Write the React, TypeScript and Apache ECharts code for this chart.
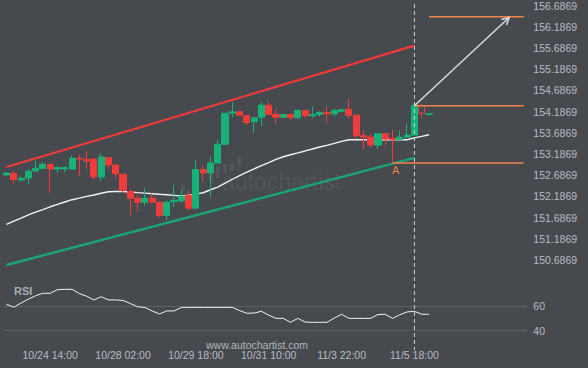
import React, { useEffect, useRef } from "react";
import * as echarts from "echarts";

// ---- data ----
// 4H candles: [open, close, low, high]
const ohlc: number[][] = [
  [152.693, 152.740, 152.680, 152.760],
  [152.725, 152.585, 152.491, 152.787],
  [152.575, 152.615, 152.538, 152.679],
  [152.622, 152.780, 152.474, 152.827],
  [152.787, 152.850, 152.787, 153.038],
  [152.850, 152.944, 152.850, 152.991],
  [152.944, 152.834, 152.270, 152.944],
  [152.834, 152.866, 152.740, 152.913],
  [152.836, 152.866, 152.750, 152.897],
  [152.834, 153.085, 152.834, 153.163],
  [153.085, 153.069, 152.662, 153.163],
  [153.054, 153.022, 152.834, 153.250],
  [153.069, 152.646, 152.585, 153.069],
  [152.646, 153.116, 152.552, 153.195],
  [153.101, 152.928, 152.819, 153.101],
  [152.928, 152.725, 152.615, 152.928],
  [152.709, 152.333, 152.286, 152.709],
  [152.303, 152.145, 151.753, 152.350],
  [152.145, 152.051, 151.833, 152.223],
  [152.051, 152.145, 151.974, 152.380],
  [152.145, 152.051, 152.021, 152.256],
  [152.051, 151.739, 151.692, 152.051],
  [151.739, 152.051, 151.628, 152.098],
  [152.068, 152.098, 151.941, 152.451],
  [152.082, 152.192, 152.040, 152.330],
  [152.215, 151.910, 151.847, 152.333],
  [151.910, 152.819, 151.910, 153.038],
  [152.819, 152.740, 152.552, 152.921],
  [152.740, 152.975, 152.162, 153.116],
  [152.975, 153.414, 152.975, 153.524],
  [153.414, 154.149, 153.414, 154.149],
  [154.149, 154.182, 154.055, 154.417],
  [154.182, 154.102, 154.102, 154.182],
  [154.088, 153.931, 153.867, 154.088],
  [153.947, 154.041, 153.679, 154.041],
  [154.055, 154.337, 153.837, 154.417],
  [154.337, 154.119, 154.119, 154.417],
  [154.119, 154.055, 153.900, 154.229],
  [154.055, 154.119, 154.025, 154.119],
  [154.119, 154.041, 153.994, 154.119],
  [154.041, 154.213, 154.008, 154.243],
  [154.213, 154.088, 154.041, 154.213],
  [154.088, 154.119, 154.041, 154.307],
  [154.119, 154.166, 154.072, 154.196],
  [154.166, 154.135, 153.914, 154.307],
  [154.135, 154.213, 154.072, 154.260],
  [154.196, 154.229, 154.182, 154.260],
  [154.243, 154.102, 154.025, 154.495],
  [154.102, 153.618, 153.538, 154.102],
  [153.618, 153.585, 153.303, 153.743],
  [153.585, 153.397, 153.336, 153.665],
  [153.397, 153.665, 153.303, 153.665],
  [153.665, 153.538, 153.397, 153.665],
  [153.555, 153.524, 152.975, 153.759],
  [153.524, 153.585, 153.524, 153.743],
  [153.585, 153.632, 153.585, 153.900],
  [153.632, 154.337, 153.632, 154.337],
  [154.323, 154.149, 154.025, 154.370],
  [154.119, 154.135, 154.100, 154.150],
];

// moving average (white line)
const maValues: number[] = [
  151.530, 151.605, 151.678, 151.753, 151.816, 151.877, 151.943, 152.000, 152.056, 152.110,
  152.148, 152.187, 152.220, 152.263, 152.296, 152.305, 152.305, 152.291, 152.277, 152.265,
  152.251, 152.237, 152.225, 152.211, 152.197, 152.216, 152.242, 152.274, 152.345, 152.408,
  152.500, 152.592, 152.679, 152.758, 152.838, 152.914, 152.986, 153.062, 153.123, 153.170,
  153.214, 153.259, 153.306, 153.351, 153.391, 153.437, 153.484, 153.524, 153.524, 153.524,
  153.524, 153.524, 153.524, 153.524, 153.524, 153.524, 153.567, 153.602, 153.642,
];

// RSI
const rsiValues: number[] = [
  61.4, 59.0, 62.4, 65.5, 68.3, 70.3, 70.3, 73.2, 73.5, 73.5,
  70.1, 67.9, 64.9, 67.5, 64.9, 64.9, 64.5, 62.0, 59.4, 58.8,
  56.0, 53.5, 56.0, 56.0, 58.8, 58.9, 58.9, 58.9, 58.9, 58.9,
  58.9, 58.9, 56.3, 54.1, 54.3, 55.7, 52.6, 50.0, 50.0, 46.8,
  50.0, 47.0, 46.8, 46.8, 46.8, 50.2, 53.3, 50.0, 50.0, 50.0,
  50.0, 53.1, 53.3, 50.0, 52.9, 55.2, 55.7, 53.3, 53.3,
];

// channel lines [index, price]
const upperChannel = [[0, 152.880], [56, 155.740]];
const lowerChannel = [[0, 150.571], [56, 153.097]];

// pattern levels
const targetLevel = [[58, 156.421], [71, 156.421]];
const breakoutLevel = [[56, 154.323], [71, 154.323]];
const supportLevel = [[53, 152.975], [71, 152.975]];
const arrowPath = [56, 154.323, 69, 156.405];
const pointA = [53, 152.975];
const breakoutIndex = 56;

// axis
const slotCount = 72;
const timeLabelIndex = [6, 16, 26, 36, 46, 56];
const timeLabels = ["10/24 14:00", "10/28 02:00", "10/29 18:00", "10/31 10:00", "11/3 22:00", "11/5 18:00"];
const priceLabels = [
  "150.6869", "151.1869", "151.6869", "152.1869", "152.6869", "153.1869", "153.6869",
  "154.1869", "154.6869", "155.1869", "155.6869", "156.1869", "156.6869",
];
const priceMin = 150.1869;
const priceMax = 156.6869;
const priceStep = 0.5;
const rsiLevels = [60, 40];

const BG = "#46494e";
const GREEN = "#17b27a";
const RED = "#f23b3b";
const ORANGE = "#f0834c";
const LABEL = "#b9bcc1";
const FONT = "Liberation Sans, Arial, sans-serif";

export default function App() {
  const ref = useRef<HTMLDivElement>(null);

  useEffect(() => {
    if (!ref.current) return;
    const chart = echarts.init(ref.current, undefined, { renderer: "svg" });
    const categories = Array.from({ length: slotCount }, (_, i) => String(i));
    const gridLeft = 2.86;
    const gridWidth = 524.45;
    const gridRight = 588 - gridLeft - gridWidth;

    const candleData = ohlc.map((d, i) =>
      i === 57
        ? { value: d, itemStyle: { color0: BG, borderColor0: RED } }
        : d
    );

    const lineCommon = {
      type: "line" as const,
      xAxisIndex: 1,
      yAxisIndex: 0,
      symbol: "none",
      silent: true,
      animation: false,
    };

    chart.setOption({
      animation: false,
      backgroundColor: BG,
      textStyle: { fontFamily: FONT },
      grid: [
        { left: gridLeft, right: gridRight, top: 4.7, height: 276.6 },
        { left: gridLeft, right: gridRight, top: 281.3, height: 49.4 },
      ],
      xAxis: [
        { type: "category", gridIndex: 0, data: categories, show: false },
        { type: "value", gridIndex: 0, min: -0.5, max: slotCount - 0.5, show: false },
        {
          type: "category",
          gridIndex: 1,
          data: categories,
          axisLine: { show: false },
          axisTick: { show: false },
          axisLabel: {
            interval: 0,
            margin: 19,
            color: LABEL,
            fontSize: 10.5,
            fontFamily: FONT,
            formatter: (_v: string, idx: number) => {
              const k = timeLabelIndex.indexOf(idx);
              return k >= 0 ? timeLabels[k] : "";
            },
          },
          splitLine: { show: false },
        },
      ],
      yAxis: [
        {
          type: "value",
          gridIndex: 0,
          position: "right",
          min: priceMin,
          max: priceMax,
          interval: priceStep,
          axisLine: { show: false },
          axisTick: { show: false },
          splitLine: { show: false },
          axisLabel: {
            margin: 6,
            color: LABEL,
            fontSize: 10.5,
            fontFamily: FONT,
            showMinLabel: true,
            showMaxLabel: true,
            formatter: (v: number) => {
              const idx = Math.round((v - priceMin) / priceStep) - 1;
              return priceLabels[idx] ?? "";
            },
          },
        },
        {
          type: "value",
          gridIndex: 1,
          position: "right",
          min: 40,
          max: 80,
          interval: 20,
          axisLine: { show: false },
          axisTick: { show: false },
          splitLine: { show: false },
          axisLabel: {
            margin: 6,
            color: LABEL,
            fontSize: 10.5,
            fontFamily: FONT,
            formatter: (v: number) => (rsiLevels.includes(Math.round(v)) ? String(Math.round(v)) : ""),
          },
        },
      ],
      series: [
        {
          ...lineCommon,
          data: upperChannel,
          lineStyle: { color: "#ee3a3a", width: 2.2 },
          z: 3,
        },
        {
          ...lineCommon,
          data: lowerChannel,
          lineStyle: { color: "#1aa574", width: 2.4 },
          z: 3,
        },
        {
          type: "line",
          xAxisIndex: 0,
          yAxisIndex: 0,
          data: maValues,
          symbol: "none",
          silent: true,
          lineStyle: { color: "#f2f2f2", width: 1.4 },
          z: 3,
        },
        {
          type: "candlestick",
          xAxisIndex: 0,
          yAxisIndex: 0,
          data: candleData,
          barWidth: 6.6,
          silent: true,
          itemStyle: {
            color: GREEN,
            color0: RED,
            borderColor: GREEN,
            borderColor0: RED,
            borderWidth: 1,
          },
          z: 4,
        },
        {
          ...lineCommon,
          data: targetLevel,
          lineStyle: { color: ORANGE, width: 1.5 },
          z: 5,
        },
        {
          ...lineCommon,
          data: breakoutLevel,
          lineStyle: { color: ORANGE, width: 1.5 },
          z: 5,
        },
        {
          ...lineCommon,
          data: supportLevel,
          lineStyle: { color: ORANGE, width: 1.5 },
          z: 5,
          markPoint: {
            silent: true,
            symbol: "circle",
            symbolSize: 1,
            itemStyle: { color: "rgba(0,0,0,0)" },
            label: {
              show: true,
              formatter: "A",
              position: "bottom",
              distance: 1,
              offset: [3, 0],
              color: ORANGE,
              fontSize: 10.5,
              fontFamily: "DejaVu Sans, sans-serif",
            },
            data: [{ coord: pointA }],
          },
        },
        {
          type: "custom",
          xAxisIndex: 1,
          yAxisIndex: 0,
          silent: true,
          z: 6,
          data: [arrowPath],
          encode: { x: [0, 2], y: [1, 3] },
          renderItem: (_params: any, api: any) => {
            const a = api.coord([api.value(0), api.value(1)]);
            const b = api.coord([api.value(2), api.value(3)]);
            const ang = Math.atan2(b[1] - a[1], b[0] - a[0]);
            const L = 8;
            const sp = 0.5;
            const p1 = [b[0] - L * Math.cos(ang - sp), b[1] - L * Math.sin(ang - sp)];
            const p2 = [b[0] - L * Math.cos(ang + sp), b[1] - L * Math.sin(ang + sp)];
            return {
              type: "group",
              children: [
                {
                  type: "line",
                  shape: { x1: a[0], y1: a[1], x2: b[0], y2: b[1] },
                  style: { stroke: "#dcdcdc", lineWidth: 1.5 },
                },
                {
                  type: "polyline",
                  shape: { points: [p1, b, p2] },
                  style: { stroke: "#dcdcdc", lineWidth: 1.5, fill: "none" },
                },
              ],
            };
          },
        },
        {
          type: "line",
          xAxisIndex: 2,
          yAxisIndex: 1,
          data: rsiValues,
          symbol: "none",
          silent: true,
          lineStyle: { color: "#f2f2f2", width: 1 },
          z: 3,
          markLine: {
            silent: true,
            symbol: "none",
            label: { show: false },
            lineStyle: { color: "#5e6166", width: 1, type: "solid" },
            data: rsiLevels.map((v) => ({ yAxis: v })),
            z: 1,
          },
        },
      ],
    });

    const bx = chart.convertToPixel({ xAxisIndex: 1 }, breakoutIndex) as number;
    const logoBars = [
      [181, 185, 4, 7],
      [209, 171, 4, 11],
      [216, 166, 4, 12],
      [223, 164, 4, 9],
      [230, 163, 4, 8],
      [237, 157, 4, 10],
    ];
    chart.setOption({
      graphic: [
        ...logoBars.map((r) => ({
          type: "rect",
          silent: true,
          z: 1,
          shape: { x: r[0], y: r[1], width: r[2], height: r[3], r: 1 },
          style: { fill: "rgba(255,255,255,0.07)" },
        })),
        {
          type: "text",
          silent: true,
          z: 1,
          left: 222,
          top: 170,
          style: {
            text: "autochartist",
            fill: "rgba(255,255,255,0.07)",
            font: "23px Liberation Sans, Arial, sans-serif",
          },
        },
        {
          type: "line",
          silent: true,
          z: 10,
          shape: { x1: bx, y1: 4, x2: bx, y2: 350 },
          style: { stroke: "#cfcfcf", lineWidth: 1, lineDash: [4, 3] },
        },
        {
          type: "text",
          silent: true,
          left: 14,
          top: 285,
          style: {
            text: "RSI",
            fill: "#a8acb2",
            font: "bold 11px Liberation Sans, Arial, sans-serif",
          },
        },
        {
          type: "text",
          silent: true,
          left: 206,
          top: 339,
          style: {
            text: "www.autochartist.com",
            fill: "#b3b6bb",
            font: "10.5px Liberation Sans, Arial, sans-serif",
          },
        },
      ],
    });

    return () => chart.dispose();
  }, []);

  return (
    <div
      ref={ref}
      style={{ position: "fixed", left: 0, top: 0, width: 588, height: 368 }}
    />
  );
}
